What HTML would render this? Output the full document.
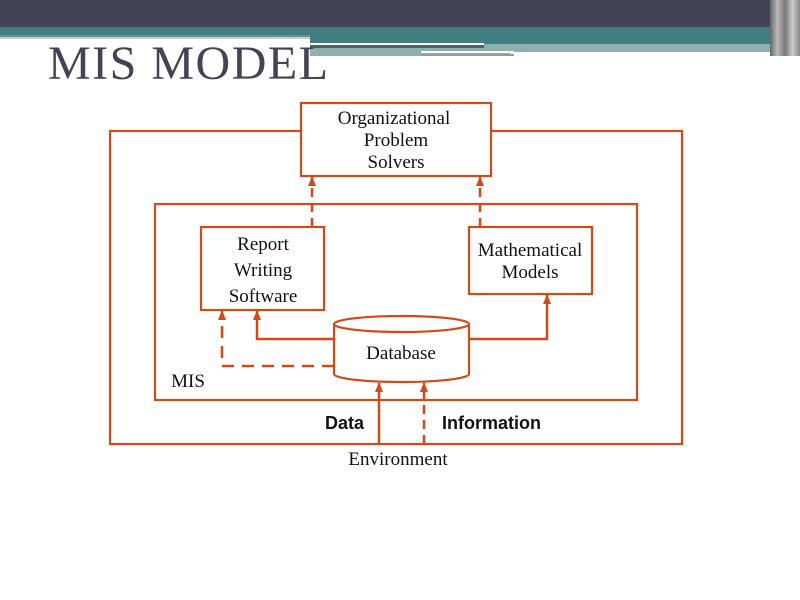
<!DOCTYPE html>
<html><head><style>
body{margin:0;width:800px;height:600px;overflow:hidden;background:#fff;position:relative}
.a{position:absolute}
</style></head><body>
<div class="a" style="left:0;top:0;width:800px;height:27px;background:#424456"></div>
<div class="a" style="left:0;top:27px;width:800px;height:9px;background:#417E81"></div>
<div class="a" style="left:0;top:35px;width:310px;height:2px;background:#7a8a90"></div>
<div class="a" style="left:0;top:37px;width:310px;height:2px;background:#c8d0d0"></div>
<div class="a" style="left:310px;top:36px;width:490px;height:8px;background:#417E81"></div>
<div class="a" style="left:310px;top:43px;width:174px;height:2px;background:#fff"></div>
<div class="a" style="left:310px;top:45px;width:174px;height:3px;background:#555a66"></div>
<div class="a" style="left:310px;top:48px;width:200px;height:8px;background:#8fb0b0"></div>
<div class="a" style="left:484px;top:44px;width:310px;height:8px;background:#8fb0b0"></div>
<div class="a" style="left:421px;top:51px;width:93px;height:2px;background:#fff"></div>
<div class="a" style="left:421px;top:54px;width:93px;height:2px;background:#999"></div>
<div class="a" style="left:770px;top:0;width:30px;height:56px;background:linear-gradient(90deg,#666,#bbb,#777,#ccc,#888)"></div>
<div class="a" style="left:48px;top:36px;font:48px 'Liberation Serif',serif;color:#424456;letter-spacing:1.5px">MIS MODEL</div>
<svg class="a" style="left:0;top:0" width="800" height="600">
<defs><marker id="m" markerWidth="10" markerHeight="8" refX="9" refY="4" orient="auto" markerUnits="userSpaceOnUse"><path d="M0,0 L10,4 L0,8z" fill="#D04A1A"/></marker></defs>
<g stroke="#D04A1A" stroke-width="2.2" fill="none">
<rect x="110" y="131" width="572" height="313"/>
<rect x="155" y="204" width="482" height="196"/>
<rect x="301" y="103" width="190" height="73" fill="#fff"/>
<rect x="201" y="227" width="123" height="83" fill="#fff"/>
<rect x="469" y="227" width="123" height="67" fill="#fff"/>
<path d="M334,324 L334,374 A67.5,8 0 0 0 469,374 L469,324" fill="#fff"/>
<ellipse cx="401.5" cy="324" rx="67.5" ry="8" fill="#fff"/>
</g>
<g stroke="#D04A1A" stroke-width="2.5" fill="none">
<path d="M312,227 V177" stroke-dasharray="9,6" marker-end="url(#m)"/>
<path d="M480,227 V177" stroke-dasharray="9,6" marker-end="url(#m)"/>
<path d="M334,339 H257 V311" marker-end="url(#m)"/>
<path d="M334,366 H222 V311" stroke-dasharray="12,8" marker-end="url(#m)"/>
<path d="M469,339 H547 V295" marker-end="url(#m)"/>
<path d="M379,444 V383" marker-end="url(#m)"/>
<path d="M424,444 V383" stroke-dasharray="9,6" marker-end="url(#m)"/>
</g>
<g font-family="Liberation Serif,serif" font-size="19" fill="#111" text-anchor="middle">
<text x="394" y="124">Organizational</text>
<text x="396" y="146">Problem</text>
<text x="396" y="168">Solvers</text>
<text x="263" y="250">Report</text>
<text x="263" y="276">Writing</text>
<text x="263" y="302">Software</text>
<text x="530" y="256">Mathematical</text>
<text x="530" y="278">Models</text>
<text x="401" y="359">Database</text>
<text x="188" y="387">MIS</text>
<text x="398" y="465">Environment</text>
</g>
<g font-family="Liberation Sans,sans-serif" font-size="18" font-weight="bold" fill="#111">
<text x="325" y="429">Data</text>
<text x="442" y="429">Information</text>
</g>
</svg>
</body></html>
